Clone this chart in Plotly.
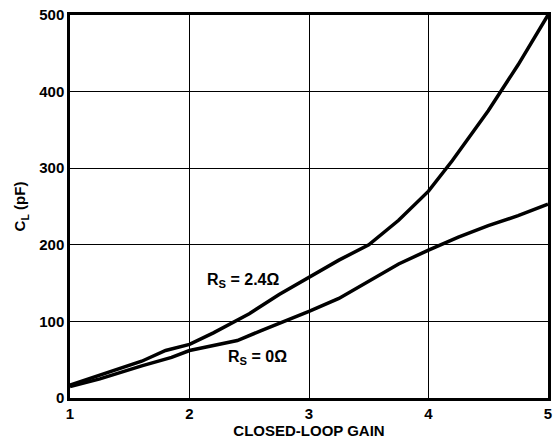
import plotly.graph_objects as go

gain_hi = [1, 1.25, 1.6, 1.8, 2, 2.2, 2.5, 2.75, 3, 3.25, 3.5, 3.75, 4, 4.2, 4.5, 4.75, 5]
cl_hi = [17, 30, 48, 62, 70, 85, 110, 135, 158, 180, 200, 232, 270, 310, 375, 435, 500]
gain_lo = [1, 1.25, 1.6, 1.85, 2, 2.2, 2.4, 2.6, 2.8, 3, 3.25, 3.5, 3.75, 4, 4.25, 4.5, 4.75, 5]
cl_lo = [15, 25, 42, 53, 62, 68, 75, 88, 100, 113, 130, 152, 175, 193, 210, 225, 238, 253]
x_ticks = [1, 2, 3, 4, 5]
y_ticks = [0, 100, 200, 300, 400, 500]

font = dict(family="Liberation Sans, Arial, sans-serif", color="black")

fig = go.Figure()
fig.add_trace(go.Scatter(x=gain_hi, y=cl_hi, mode="lines", cliponaxis=False,
                         line=dict(color="black", width=3.5), showlegend=False))
fig.add_trace(go.Scatter(x=gain_lo, y=cl_lo, mode="lines", cliponaxis=False,
                         line=dict(color="black", width=3.5), showlegend=False))

fig.add_annotation(x=2.45, y=154, text="<b>R<sub>S</sub> = 2.4Ω</b>", showarrow=False,
                   font=dict(size=16, **font))
fig.add_annotation(x=2.57, y=53, text="<b>R<sub>S</sub> = 0Ω</b>", showarrow=False,
                   font=dict(size=16, **font))

fig.update_layout(
    width=553, height=443,
    margin=dict(l=70, r=5, t=15, b=45, autoexpand=False),
    paper_bgcolor="white", plot_bgcolor="white",
    font=dict(size=15, **font),
    xaxis=dict(range=[1, 5], tickvals=x_ticks, ticktext=[f"<b>{v}</b>" for v in x_ticks],
               showgrid=True, gridcolor="black", gridwidth=1.3,
               showline=True, linecolor="black", linewidth=2.5, mirror=True,
               ticks="", zeroline=False, tickfont=dict(size=15, **font),
               title=dict(text="<b>CLOSED-LOOP GAIN</b>", font=dict(size=15, **font), standoff=5)),
    yaxis=dict(range=[0, 500], tickvals=y_ticks, ticktext=[f"<b>{v}</b>" for v in y_ticks],
               showgrid=True, gridcolor="black", gridwidth=1.3,
               showline=True, linecolor="black", linewidth=2.5, mirror=True,
               ticks="", zeroline=False, tickfont=dict(size=15, **font),
               title=dict(text="<b>C<sub>L</sub> (pF)</b>", font=dict(size=15, **font), standoff=10)),
)

fig.write_html("out.html", config={"displayModeBar": False},
               post_script="document.body.style.margin='0';")
